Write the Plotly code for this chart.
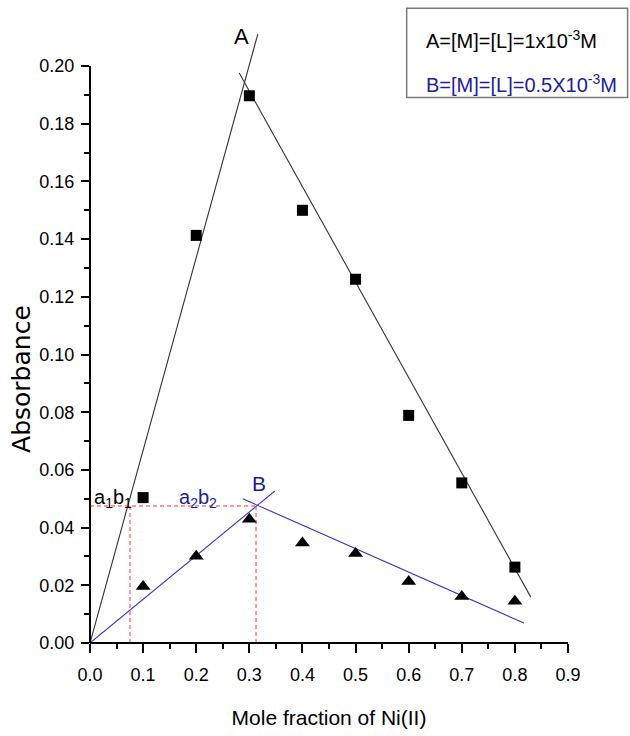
import plotly.graph_objects as go

# ---- data ----
mole_fraction = [0.1, 0.2, 0.3, 0.4, 0.5, 0.6, 0.7, 0.8]
absorb_A = [0.0504, 0.1413, 0.1897, 0.150, 0.1261, 0.0789, 0.0555, 0.0263]
absorb_B = [0.0196, 0.0301, 0.0429, 0.0347, 0.0310, 0.0213, 0.0161, 0.0145]

# fitted straight lines (endpoints)
fitA_left_x = [0.0, 0.316]
fitA_left_y = [0.0, 0.2111]
fitA_right_x = [0.281, 0.830]
fitA_right_y = [0.1976, 0.0159]
fitB_left_x = [0.0, 0.348]
fitB_left_y = [0.0, 0.0527]
fitB_right_x = [0.2876, 0.817]
fitB_right_y = [0.0500, 0.0069]

# guide lines (intersection readings)
guide_y = 0.0475
guide_x1 = 0.0753
guide_x2 = 0.3126

xticks = [0.0, 0.1, 0.2, 0.3, 0.4, 0.5, 0.6, 0.7, 0.8, 0.9]
xtick_text = ["0.0", "0.1", "0.2", "0.3", "0.4", "0.5", "0.6", "0.7", "0.8", "0.9"]
yticks = [0.00, 0.02, 0.04, 0.06, 0.08, 0.10, 0.12, 0.14, 0.16, 0.18, 0.20]
ytick_text = ["0.00", "0.02", "0.04", "0.06", "0.08", "0.10", "0.12", "0.14", "0.16", "0.18", "0.20"]
xminor = [0.05, 0.15, 0.25, 0.35, 0.45, 0.55, 0.65, 0.75, 0.85]
yminor = [0.01, 0.03, 0.05, 0.07, 0.09, 0.11, 0.13, 0.15, 0.17, 0.19]

FONT = "Liberation Sans"
BLUE_LINE = "#3434c8"
BLUE_TEXT = "#20209a"
RED = "#ff3030"

fig = go.Figure()

# fitted lines
for xs, ys, col in [(fitA_left_x, fitA_left_y, "#333333"),
                    (fitA_right_x, fitA_right_y, "#333333"),
                    (fitB_left_x, fitB_left_y, BLUE_LINE),
                    (fitB_right_x, fitB_right_y, BLUE_LINE)]:
    fig.add_trace(go.Scatter(x=xs, y=ys, mode="lines",
                             line=dict(color=col, width=1.1),
                             showlegend=False, hoverinfo="skip"))

# red dashed guides
for xs, ys in [([0.0, guide_x2], [guide_y, guide_y]),
               ([guide_x1, guide_x1], [0.0, guide_y]),
               ([guide_x2, guide_x2], [0.0, guide_y])]:
    fig.add_trace(go.Scatter(x=xs, y=ys, mode="lines",
                             line=dict(color=RED, width=1, dash="4px,3px"),
                             showlegend=False, hoverinfo="skip"))

# data points
fig.add_trace(go.Scatter(x=mole_fraction, y=absorb_A, mode="markers",
                         marker=dict(symbol="square", size=11, color="black"),
                         showlegend=False, cliponaxis=False))
fig.add_trace(go.Scatter(x=mole_fraction, y=absorb_B, mode="markers",
                         marker=dict(symbol="triangle-up", size=13, color="black"),
                         showlegend=False, cliponaxis=False))

axis_common = dict(showgrid=False, zeroline=False, showline=False,
                   ticks="outside", tickwidth=2, tickcolor="black",
                   tickfont=dict(family=FONT, size=18, color="black"))

fig.update_xaxes(range=[0, 0.9], tickmode="array", tickvals=xticks, ticktext=xtick_text,
                 ticklen=9, ticklabelstandoff=6,
                 minor=dict(tickmode="array", tickvals=xminor, ticks="outside",
                            ticklen=5, tickwidth=2, tickcolor="black"),
                 title=dict(text="Mole fraction of Ni(II)",
                            font=dict(family=FONT, size=21, color="black"), standoff=26),
                 **axis_common)
fig.update_yaxes(range=[0, 0.2125], tickmode="array", tickvals=yticks, ticktext=ytick_text,
                 ticklen=8, ticklabelstandoff=3,
                 minor=dict(tickmode="array", tickvals=yminor, ticks="outside",
                            ticklen=5, tickwidth=2, tickcolor="black"),
                 **axis_common)

# y-axis title (placed lower than the axis centre, as in the reference)
fig.add_annotation(xref="paper", yref="paper", x=-0.1432, y=0.43, textangle=-90,
                   xanchor="center", yanchor="middle",
                   text="Absorbance", showarrow=False,
                   font=dict(family="DejaVu Sans", size=25, color="black"))

# axis lines
fig.add_shape(type="line", xref="paper", yref="y", x0=0, x1=0, y0=0, y1=0.20,
              line=dict(color="black", width=2))
fig.add_shape(type="line", xref="paper", yref="paper", x0=0, x1=1, y0=0, y1=0,
              line=dict(color="black", width=2))

# legend box
fig.add_shape(type="rect", xref="paper", yref="paper", x0=0.6625, x1=1.1247, y0=0.890, y1=1.0354,
              line=dict(color="#7a7a7a", width=1.5), fillcolor="white", layer="above")
fig.add_annotation(xref="paper", yref="paper", x=0.698, y=0.985, xanchor="left", yanchor="middle",
                   text="A=[M]=[L]=1x10<sup>-3</sup>M", showarrow=False,
                   font=dict(family=FONT, size=20, color="black"))
fig.add_annotation(xref="paper", yref="paper", x=0.698, y=0.913, xanchor="left", yanchor="middle",
                   text="B=[M]=[L]=0.5X10<sup>-3</sup>M", showarrow=False,
                   font=dict(family=FONT, size=20, color=BLUE_TEXT))

# labels
fig.add_annotation(x=0.2857, y=0.2102, text="A", showarrow=False,
                   font=dict(family=FONT, size=22, color="black"))
fig.add_annotation(x=0.318, y=0.0552, text="B", showarrow=False,
                   font=dict(family=FONT, size=21, color=BLUE_TEXT))
fig.add_annotation(x=0.0035, y=0.0450, xanchor="left", yanchor="bottom",
                   text="a<sub>1</sub>b<sub>1</sub>", showarrow=False,
                   font=dict(family=FONT, size=20, color="black"))
fig.add_annotation(x=0.1647, y=0.0450, xanchor="left", yanchor="bottom",
                   text="a<sub>2</sub>b<sub>2</sub>", showarrow=False,
                   font=dict(family=FONT, size=20, color=BLUE_TEXT))

fig.update_layout(width=630, height=736,
                  margin=dict(l=90, r=62, t=30, b=93),
                  paper_bgcolor="white", plot_bgcolor="white",
                  showlegend=False)

fig.write_html("out.html")
